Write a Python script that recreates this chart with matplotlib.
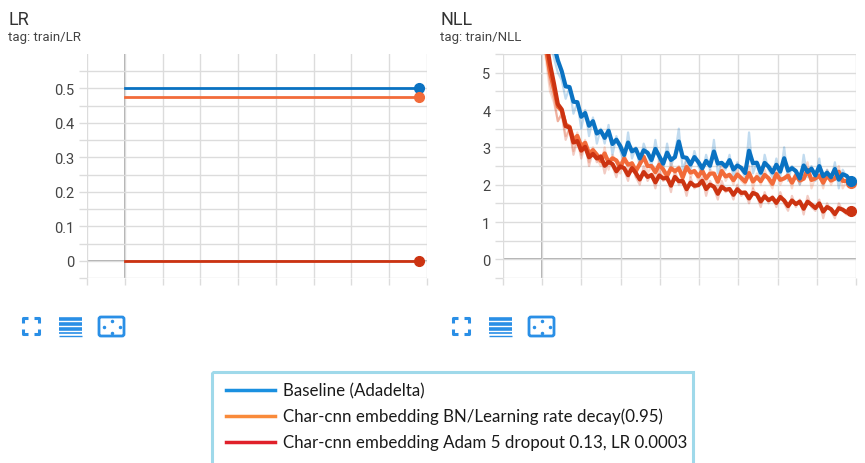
import numpy as np
import matplotlib.pyplot as plt
from matplotlib.patches import Rectangle, FancyBboxPatch

plt.rcParams['font.family'] = ['Roboto', 'DejaVu Sans']

BLUE = '#0a72c2'
ORANGE = '#f26b3a'
RED = '#cc3311'

# ---- data ----
lr_steps = [0.0, 7.8]
lr_baseline = [0.5, 0.5]
lr_bn_decay = [0.475, 0.475]
lr_adam = [0.0003, 0.0003]

nll_steps = np.linspace(0, 7.86, 80)
nll_baseline = [7.0, 6.2, 5.8, 5.4, 5.0, 4.8, 4.3, 4.6, 3.9, 4.2,
                3.5, 4.0, 3.3, 3.8, 3.1, 3.5, 3.1, 3.6, 2.8, 3.3,
                2.9, 2.6, 3.4, 2.7, 3.0, 2.5, 3.1, 2.8, 2.5, 3.2,
                2.6, 2.4, 3.1, 2.5, 2.8, 3.5, 2.4, 2.7, 2.4, 2.9,
                2.5, 2.3, 2.8, 2.4, 3.2, 2.3, 2.6, 2.4, 2.8, 2.2,
                2.6, 2.4, 2.2, 3.4, 2.3, 2.6, 2.1, 2.8, 2.4, 2.2,
                2.7, 2.2, 3.0, 2.1, 2.5, 2.3, 2.0, 2.8, 2.2, 2.5,
                2.1, 2.7, 2.0, 2.4, 2.1, 2.6, 1.9, 2.4, 2.2, 2.0]
nll_bn_decay = [6.0, 5.3, 4.5, 4.2, 3.7, 3.9, 3.3, 3.5, 2.9, 3.4,
                2.8, 3.2, 2.6, 3.0, 2.7, 2.5, 3.0, 2.4, 2.8, 2.6,
                2.3, 2.9, 2.4, 2.6, 2.2, 2.7, 2.9, 2.3, 2.5, 2.2,
                2.7, 2.3, 2.1, 2.6, 2.3, 2.5, 2.0, 2.7, 2.2, 2.4,
                2.1, 2.5, 2.0, 2.4, 2.3, 1.9, 2.6, 2.1, 2.3, 2.0,
                2.4, 2.1, 2.0, 2.5, 1.9, 2.3, 2.0, 2.4, 2.1, 1.9,
                2.5, 2.0, 2.2, 2.3, 1.9, 2.4, 2.0, 2.2, 2.6, 1.9,
                2.2, 2.3, 1.9, 2.4, 2.0, 2.2, 2.5, 1.9, 2.1, 2.0]
nll_adam = [6.3, 5.5, 4.7, 4.3, 3.7, 3.9, 3.2, 3.5, 2.8, 3.2,
            2.7, 3.1, 2.5, 2.9, 2.6, 2.8, 2.3, 2.7, 2.5, 2.2,
            2.6, 2.4, 2.1, 2.6, 2.2, 2.0, 2.5, 2.1, 2.3, 1.9,
            2.4, 2.1, 2.2, 1.8, 2.4, 2.0, 2.1, 1.7, 2.2, 1.9,
            2.0, 2.2, 1.7, 2.1, 1.9, 1.6, 2.1, 1.8, 1.9, 1.6,
            2.0, 1.7, 1.8, 1.5, 1.9, 1.7, 1.4, 1.8, 1.5, 1.7,
            1.4, 1.8, 1.5, 1.3, 1.7, 1.4, 1.6, 1.2, 1.7, 1.4,
            1.3, 1.6, 1.1, 1.5, 1.3, 1.1, 1.5, 1.3, 1.2, 1.3]

legend_labels = ['Baseline (Adadelta)',
                 'Char-cnn embedding BN/Learning rate decay(0.95)',
                 'Char-cnn embedding Adam 5 dropout 0.13, LR 0.0003']


def smooth(vals, w=0.45):
    # tensorboard style exponential moving average
    out = []
    last = vals[0]
    for v in vals:
        last = last * w + (1 - w) * v
        out.append(last)
    return out


W, H = 865, 464
fig = plt.figure(figsize=(W / 100, H / 100), dpi=100)


def px_axes(x0, y0, x1, y1):
    return fig.add_axes([x0 / W, 1 - y1 / H, (x1 - x0) / W, (y1 - y0) / H])


def style(ax, ylim, major, minor, labels):
    ax.set_xlim(-1, 8)
    ax.set_ylim(*ylim)
    ax.set_xticks(range(-1, 9))
    ax.set_yticks(major)
    ax.set_yticks(minor, minor=True)
    ax.set_yticklabels(labels)
    ax.set_xticklabels([])
    ax.grid(True, which='both', color='#dcdcdc', lw=1)
    for s in ax.spines.values():
        s.set_visible(False)
    ax.tick_params(axis='x', length=5, color='#dcdcdc', width=1, direction='out')
    ax.tick_params(axis='y', which='both', length=6, color='#dcdcdc', width=1,
                   labelsize=10.5, labelcolor='#444444', pad=3)
    ax.axvline(0, color='#a0a0a0', lw=1.2, zorder=1)
    ax.axhline(0, color='#a0a0a0', lw=1.2, zorder=1)


# LR panel
ax1 = px_axes(87, 55, 427, 279)
style(ax1, (-0.05, 0.6), [0, 0.1, 0.2, 0.3, 0.4, 0.5],
      np.arange(-0.05, 0.6, 0.05), ['0', '0.1', '0.2', '0.3', '0.4', '0.5'])
for vals, c in [(lr_baseline, BLUE), (lr_bn_decay, ORANGE), (lr_adam, RED)]:
    ax1.plot(lr_steps, vals, color=c, lw=2, zorder=3)
    ax1.plot(lr_steps[-1], vals[-1], 'o', color=c, ms=7, zorder=4)

# NLL panel
ax2 = px_axes(503, 55, 856, 279)
style(ax2, (-0.5, 5.5), range(0, 6), np.arange(-0.5, 5.6, 0.5),
      [str(i) for i in range(6)])
series = [(nll_bn_decay, ORANGE), (nll_adam, RED), (nll_baseline, BLUE)]
for vals, c in series:
    ax2.plot(nll_steps, vals, color=c, lw=1.6, alpha=0.25, zorder=2)
for vals, c in series:
    sm = smooth(vals)
    ax2.plot(nll_steps, sm, color=c, lw=3, zorder=3)
    ax2.plot(nll_steps[-1], sm[-1], 'o', color=c, ms=7, zorder=4, clip_on=False)

# titles
for x, name in [(8, 'LR'), (440, 'NLL')]:
    fig.text(x / W, 1 - 25 / H, name, fontsize=13, color='#333333')
    fig.text(x / W, 1 - 41 / H, 'tag: train/' + name, fontsize=9.5, color='#444444')

# overlay in pixel coordinates for icons and legend
ov = fig.add_axes([0, 0, 1, 1])
ov.set_xlim(0, W)
ov.set_ylim(H, 0)
ov.axis('off')
ov.patch.set_alpha(0)

IC = '#2a8fe6'
for dx in [0, 430]:
    # fullscreen brackets
    x0, y0, x1, y1 = 23 + dx, 319, 39 + dx, 335
    for (cx, cy, sx, sy) in [(x0, y0, 1, 1), (x1, y0, -1, 1), (x0, y1, 1, -1), (x1, y1, -1, -1)]:
        ov.plot([cx + 5 * sx, cx, cx], [cy, cy, cy + 5 * sy], color=IC, lw=2.2,
                solid_capstyle='butt')
    # list lines
    for y, lw in [(320, 2.6), (325, 2.6), (330, 2.6), (334, 1.2), (337, 1.0)]:
        ov.plot([59 + dx, 82 + dx], [y, y], color=IC, lw=lw, solid_capstyle='butt')
    # fit box
    ov.add_patch(FancyBboxPatch((99 + dx, 318), 25, 19, boxstyle='round,pad=0,rounding_size=2',
                                fill=False, ec=IC, lw=2))
    cx, cy = 111.5 + dx, 327.5
    for ax_, ay_ in [(0, -6), (0, 6), (-8, 0), (8, 0)]:
        ov.plot(cx + ax_, cy + ay_, marker='.', color=IC, ms=3)

# legend box
ov.add_patch(Rectangle((212, 373), 481, 95, fill=False, ec='#9fd9ea', lw=2.2, clip_on=False))
leg_colors = ['#1a90e0', '#f98a3a', '#e0202a']
for lab, c, y in zip(legend_labels, leg_colors, [391, 417, 443]):
    ov.plot([226, 275], [y, y], color=c, lw=2.5)
    ov.text(283, y, lab, fontsize=12.2, family=['Lato', 'DejaVu Sans'], color='#1a1a1a',
            va='center', ha='left')

fig.savefig('out.png', dpi=100)
